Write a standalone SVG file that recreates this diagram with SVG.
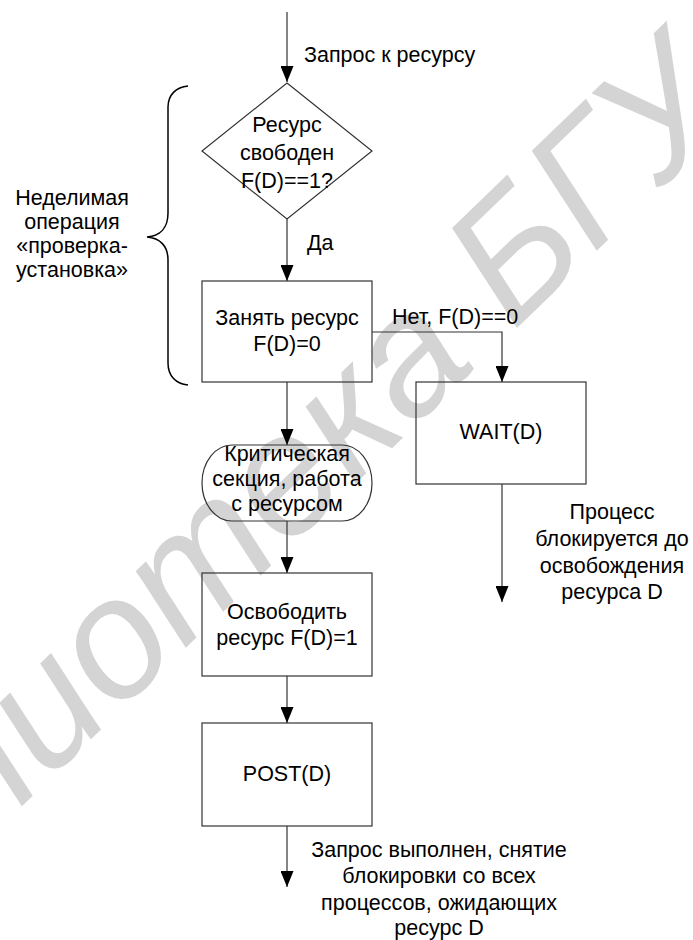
<svg xmlns="http://www.w3.org/2000/svg" width="693" height="940" viewBox="0 0 693 940">
<style>
text{font-family:"Liberation Sans",Arial,sans-serif;font-size:21.5px;fill:#000}
.c{text-anchor:middle}
.box{fill:none;stroke:#333;stroke-width:1.2}
.ln{fill:none;stroke:#333;stroke-width:1.2}
.wm{font-size:170px;font-style:italic;fill:#d4d4d4}
</style>
<defs>
<marker id="ah" markerWidth="16" markerHeight="13" refX="16" refY="6.5" orient="auto" markerUnits="userSpaceOnUse" viewBox="0 0 16 13">
<path d="M0,0 L16,6.5 L0,13 Z" fill="#000"/>
</marker>
</defs>
<rect width="693" height="940" fill="#fff"/>
<text class="wm" transform="translate(-235,1054) rotate(-44)">Библиотека БГУ</text>

<g id="connectors">
<path class="ln" d="M287,12 V82" marker-end="url(#ah)"/>
<path class="ln" d="M287,219 V281" marker-end="url(#ah)"/>
<path class="ln" d="M372,332 H502 V382" marker-end="url(#ah)"/>
<path class="ln" d="M287,382 V445" marker-end="url(#ah)"/>
<path class="ln" d="M502,484 V602" marker-end="url(#ah)"/>
<path class="ln" d="M287,521 V573" marker-end="url(#ah)"/>
<path class="ln" d="M287,676 V723" marker-end="url(#ah)"/>
<path class="ln" d="M287,826 V887" marker-end="url(#ah)"/>
<text x="304" y="62">Запрос к ресурсу</text>
<text x="307" y="250">Да</text>
<text x="392" y="324">Нет, F(D)==0</text>
<text class="c"><tspan x="612" y="519">Процесс</tspan><tspan x="612" y="546">блокируется до</tspan><tspan x="612" y="573">освобождения</tspan><tspan x="612" y="599">ресурса D</tspan></text>
<text class="c"><tspan x="439" y="857">Запрос выполнен, снятие</tspan><tspan x="439" y="883">блокировки со всех</tspan><tspan x="439" y="910">процессов, ожидающих</tspan><tspan x="439" y="935">ресурс D</tspan></text>
</g>

<g id="brace">
<path d="M188,86 C176,87 168,95 168,107 L168,213 C168,228 160,236 147,237 C160,238 168,246 168,260 L168,363 C168,376 176,384 188,385" fill="none" stroke="#000" stroke-width="1.5"/>
<text class="c"><tspan x="72" y="205">Неделимая</tspan><tspan x="72" y="229">операция</tspan><tspan x="72" y="253">«проверка-</tspan><tspan x="72" y="277">установка»</tspan></text>
</g>

<g id="decision">
<path class="box" d="M287,83 L372,151 L287,219 L202,151 Z"/>
<text class="c"><tspan x="287" y="132">Ресурс</tspan><tspan x="287" y="160">свободен</tspan><tspan x="287" y="188">F(D)==1?</tspan></text>
</g>

<g id="acquire">
<rect class="box" x="202" y="281" width="170" height="101"/>
<text class="c"><tspan x="287" y="325">Занять ресурс</tspan><tspan x="287" y="351">F(D)=0</tspan></text>
</g>

<g id="wait">
<rect class="box" x="416" y="382" width="170" height="102"/>
<text class="c" x="501" y="439">WAIT(D)</text>
</g>

<g id="critical">
<rect class="box" x="202" y="445" width="170" height="76" rx="30" ry="38"/>
<text class="c"><tspan x="287" y="461">Критическая</tspan><tspan x="287" y="486">секция, работа</tspan><tspan x="287" y="511">с ресурсом</tspan></text>
</g>

<g id="release">
<rect class="box" x="202" y="573" width="170" height="103"/>
<text class="c"><tspan x="287" y="619">Освободить</tspan><tspan x="287" y="645">ресурс F(D)=1</tspan></text>
</g>

<g id="post">
<rect class="box" x="202" y="723" width="170" height="103"/>
<text class="c" x="287" y="781">POST(D)</text>
</g>
</svg>
